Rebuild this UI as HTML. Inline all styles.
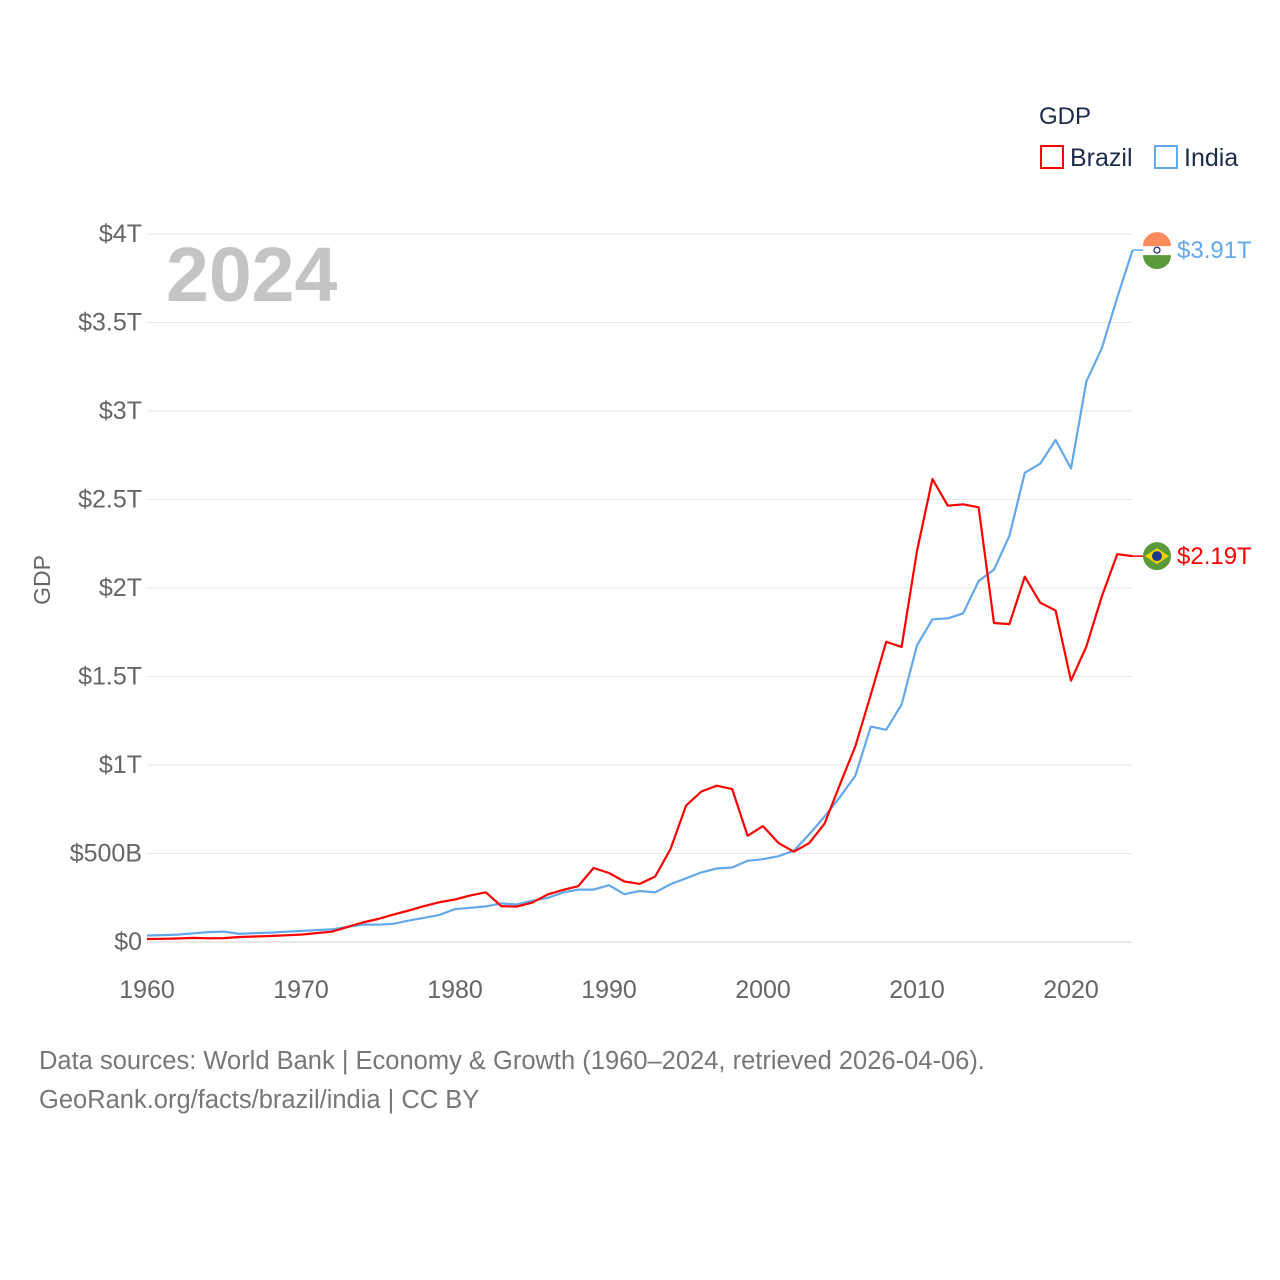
<!DOCTYPE html>
<html><head><meta charset="utf-8"><style>
html,body{margin:0;padding:0;background:#fff;}
svg{display:block;font-family:"Liberation Sans",sans-serif;}
</style></head><body>
<svg id="chart" width="1280" height="1280" viewBox="0 0 1280 1280">
<g id="grid"></g>
<g id="yticks"></g>
<g id="xticks"></g>
<text x="166" y="301" font-size="77" font-weight="bold" fill="#c4c4c4">2024</text>
<text transform="translate(50,580) rotate(-90)" text-anchor="middle" font-size="23" fill="#666">GDP</text>
<g id="series"></g>
<g>
<text x="1039" y="124" font-size="24" fill="#1c2b4a">GDP</text>
<g><rect x="1041" y="146" width="22" height="22" fill="none" stroke="#ff0000" stroke-width="2"/><text x="1070" y="166" font-size="25" fill="#1c2b4a">Brazil</text></g>
<g><rect x="1155" y="146" width="22" height="22" fill="none" stroke="#62a8ea" stroke-width="2"/><text x="1184" y="166" font-size="25" fill="#1c2b4a">India</text></g>
</g>
<text x="39" y="1069" font-size="25.5" fill="#777">Data sources: World Bank | Economy &amp; Growth (1960–2024, retrieved 2026-04-06).</text>
<text x="39" y="1108" font-size="25.5" fill="#777">GeoRank.org/facts/brazil/india | CC BY</text>
</svg>
<script>
const years = Array.from({length:65},(_,i)=>1960+i);
const brazil = [0.017,0.018,0.020,0.023,0.021,0.022,0.028,0.031,0.034,0.038,0.042,0.050,0.058,0.084,0.110,0.130,0.155,0.178,0.203,0.225,0.240,0.263,0.281,0.203,0.200,0.222,0.268,0.294,0.315,0.418,0.390,0.342,0.328,0.370,0.526,0.770,0.850,0.883,0.864,0.600,0.655,0.560,0.510,0.558,0.669,0.891,1.107,1.397,1.696,1.667,2.209,2.616,2.465,2.473,2.456,1.802,1.796,2.064,1.917,1.873,1.476,1.670,1.952,2.191,2.180];
const india = [0.037,0.039,0.042,0.049,0.056,0.059,0.046,0.050,0.053,0.058,0.062,0.067,0.071,0.085,0.099,0.098,0.103,0.121,0.137,0.153,0.186,0.193,0.201,0.218,0.212,0.233,0.249,0.279,0.296,0.296,0.321,0.270,0.288,0.280,0.327,0.360,0.393,0.415,0.421,0.459,0.468,0.485,0.515,0.608,0.709,0.820,0.940,1.217,1.199,1.342,1.676,1.823,1.828,1.857,2.039,2.104,2.295,2.651,2.702,2.836,2.675,3.168,3.354,3.640,3.909];
const yTicks = [0,0.5,1,1.5,2,2.5,3,3.5,4];
const yLabels = ["$0","$500B","$1T","$1.5T","$2T","$2.5T","$3T","$3.5T","$4T"];
const xTicks = [1960,1970,1980,1990,2000,2010,2020];
const endLabels = ["$3.91T","$2.19T"];
const NS="http://www.w3.org/2000/svg";
const X=y=>147+(y-1960)*15.4;
const Y=v=>942-v*177;
function mk(tag,attrs,parent){const e=document.createElementNS(NS,tag);for(const k in attrs)e.setAttribute(k,attrs[k]);parent.appendChild(e);return e;}
const grid=document.getElementById('grid'),yt=document.getElementById('yticks'),xt=document.getElementById('xticks'),ser=document.getElementById('series');
yTicks.forEach((v,i)=>{
  const l=mk('line',{x1:147,x2:1132,y1:Y(v),y2:Y(v),stroke:i===0?'#d0d0d0':'#e6e6e6','stroke-width':1},grid);
  
  
  const t=mk('text',{x:142,y:Y(v)+8,'text-anchor':'end','font-size':25,fill:'#666'},yt);
  t.textContent=yLabels[i];
  
  
});
xTicks.forEach(y=>{
  const t=mk('text',{x:X(y),y:998,'text-anchor':'middle','font-size':25,fill:'#666'},xt);
  t.textContent=y;
  
  
});
function line(data,color,name,label){
  const pts=data.map((v,i)=>X(years[i]).toFixed(1)+','+Y(v).toFixed(1));
  const p=mk('polyline',{points:pts.join(' '),fill:'none',stroke:color,'stroke-width':2.2,'stroke-linejoin':'round'},ser);
  
  
  const last=data[data.length-1],ly=Y(last),lx=X(years[years.length-1]);
  mk('line',{x1:lx,x2:1145,y1:ly,y2:ly,stroke:color,'stroke-width':1.5},ser);
  const g=mk('g',{},ser);
  
  
  if(name==='india'){
    mk('circle',{cx:1157,cy:ly,r:14,fill:'#fff'},g);
    mk('path',{d:`M1143 ${ly-4} A14 14 0 0 1 1171 ${ly-4} Z`,fill:'#ff8a5c'},g);
    mk('path',{d:`M1143 ${ly+5} A14 14 0 0 0 1171 ${ly+5} Z`,fill:'#5a9a3a'},g);
    mk('circle',{cx:1157,cy:ly,r:3,fill:'none',stroke:'#1a237e','stroke-width':1.2},g);
  } else {
    mk('circle',{cx:1157,cy:ly,r:14,fill:'#5a9a3a'},g);
    mk('path',{d:`M1145 ${ly} L1157 ${ly-8} L1169 ${ly} L1157 ${ly+8} Z`,fill:'#f2d300'},g);
    mk('circle',{cx:1157,cy:ly,r:5,fill:'#1e3a8a'},g);
  }
  const t=mk('text',{x:1177,y:ly+8,'font-size':24,fill:color},ser);
  t.textContent=label;
  
  
}
line(india,'#62a8ea','india',endLabels[0]);
line(brazil,'#ff0000','brazil',endLabels[1]);
</script>
</body></html>
